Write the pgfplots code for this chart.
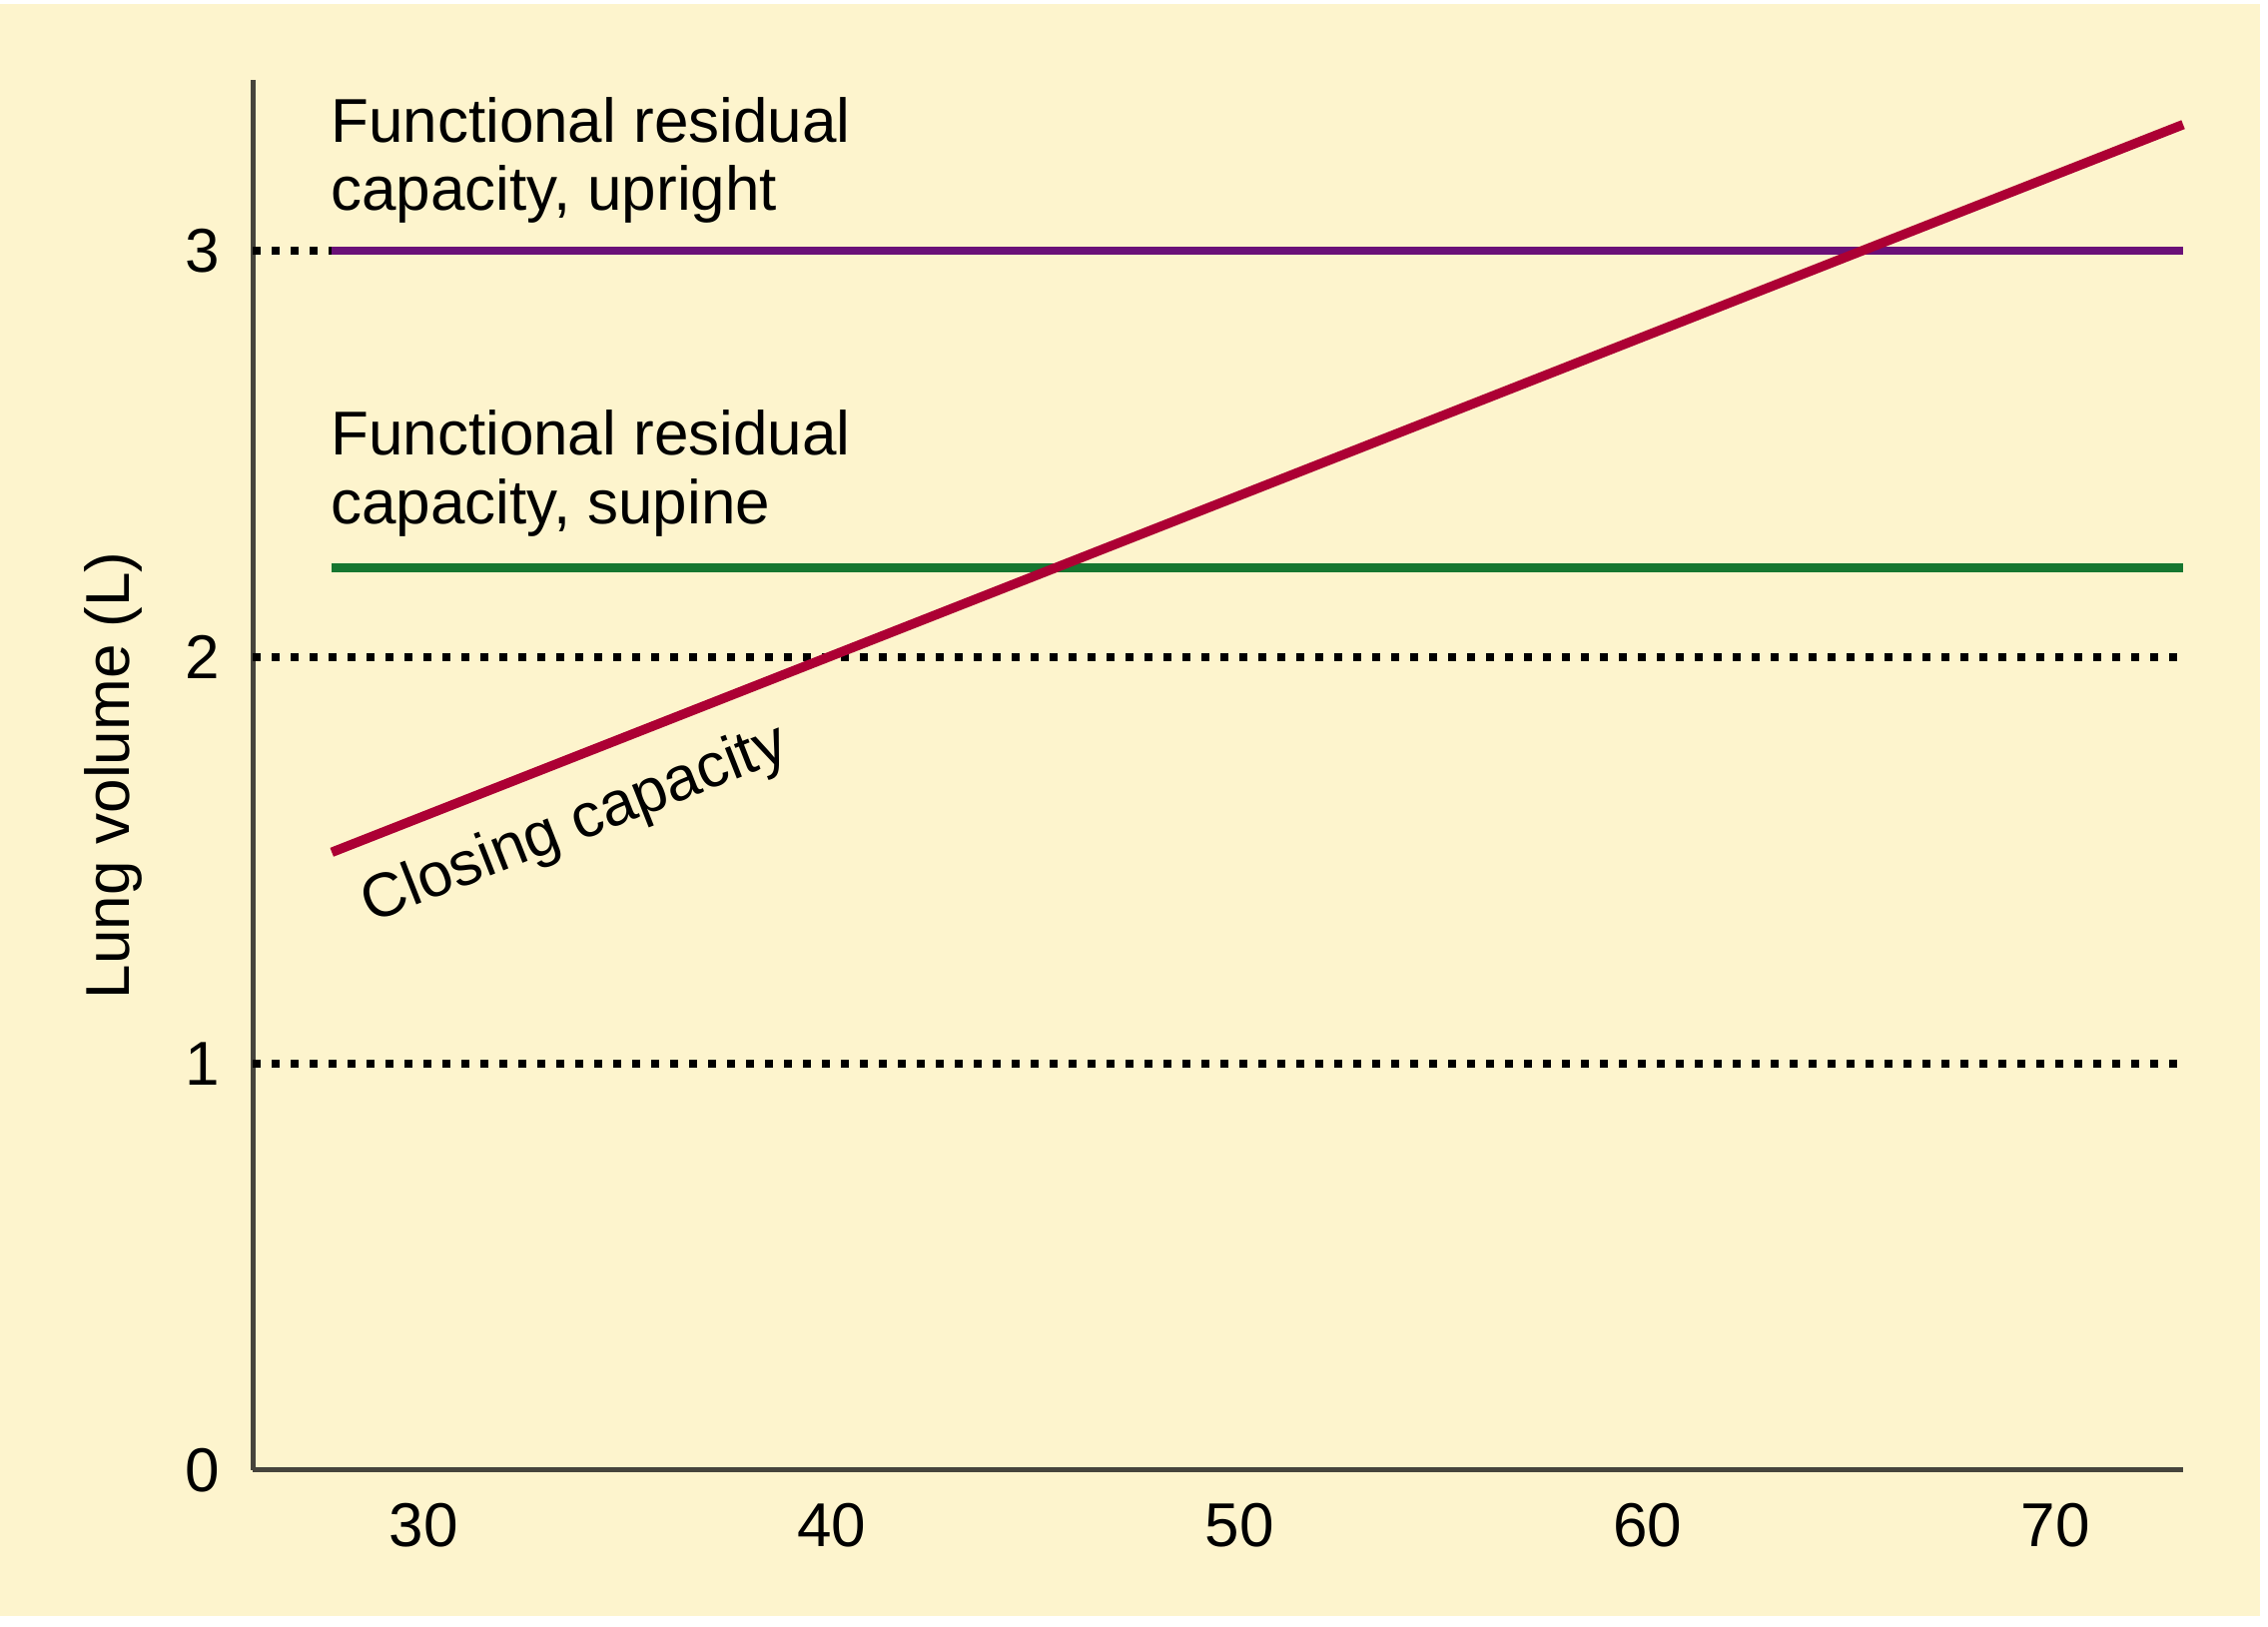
\documentclass[border=0pt]{standalone}
\usepackage{fontspec}
\setmainfont{Liberation Sans}
\usepackage{pgfplots}
\pgfplotsset{compat=1.18}
\definecolor{cream}{RGB}{253,244,205}
\definecolor{frcup}{RGB}{106,16,120}
\definecolor{frcsup}{RGB}{22,118,48}
\definecolor{closing}{RGB}{172,0,52}
\definecolor{axisgray}{RGB}{70,68,60}
\newcommand{\lab}{\fontsize{12.4}{14}\selectfont}
\begin{document}
\begin{tikzpicture}
\fill[white] (-50.6pt,-31.4pt) rectangle (403.6pt,294.4pt);
\fill[cream] (-50.6pt,-29.2pt) rectangle (402.0pt,293.6pt);
\path[use as bounding box] (-50.6pt,-31.4pt) rectangle (403.6pt,294.4pt);
\begin{axis}[
  at={(0pt,0pt)}, anchor=south west,
  scale only axis, width=386.6pt, height=278.4pt,
  xmin=25.81, xmax=73.13, ymin=0, ymax=3.42,
  axis lines=left,
  axis line style={-, draw=axisgray, line width=1pt},
  xtick={30,40,50,60,70}, ytick={0,1,2,3},
  major tick length=0pt,
  /pgf/number format/assume math mode=true,
  tick label style={font=\lab},
  xticklabel style={anchor=north, inner sep=0pt, yshift=-6.4pt},
  yticklabel style={anchor=east, inner sep=0pt, xshift=-6.4pt},
  clip=false,
  dotline/.style={black, line width=1.6pt, dash pattern=on 1.6pt off 2.2pt},
]
\addplot[dotline] coordinates {(25.81,1) (73.13,1)};
\addplot[dotline] coordinates {(25.81,2) (73.13,2)};
\addplot[dotline] coordinates {(25.81,3) (27.75,3)};
\addplot[frcsup, line width=1.8pt] coordinates {(27.75,2.22) (73.13,2.22)};
\addplot[frcup, line width=1.5pt] coordinates {(27.75,3) (73.13,3)};
\addplot[closing, line width=1.9pt] coordinates {(27.75,1.52) (73.13,3.31)};
\node[anchor=base west, inner sep=0pt, font=\lab] at (axis cs:27.7,3.266) {Functional residual};
\node[anchor=base west, inner sep=0pt, font=\lab] at (axis cs:27.7,3.099) {capacity, upright};
\node[anchor=base west, inner sep=0pt, font=\lab] at (axis cs:27.7,2.497) {Functional residual};
\node[anchor=base west, inner sep=0pt, font=\lab] at (axis cs:27.7,2.328) {capacity, supine};
\node[anchor=base west, inner sep=0pt, font=\lab, rotate=21.5] at (axis cs:28.7,1.345) {Closing capacity};
\node[anchor=center, inner sep=0pt, font=\lab, rotate=90] at (axis cs:22.40,1.709) {Lung volume (L)};
\end{axis}
\end{tikzpicture}
\end{document}
